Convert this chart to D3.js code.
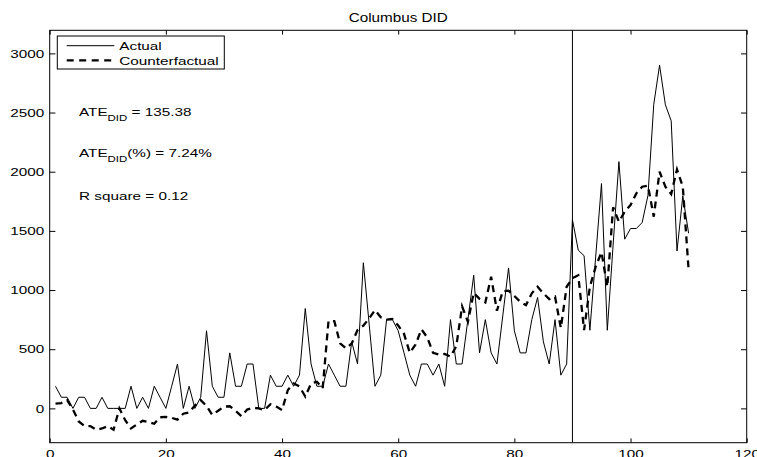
<!DOCTYPE html>
<html>
<head>
<meta charset="utf-8">
<script src="https://cdn.jsdelivr.net/npm/d3@7/dist/d3.min.js"></script>
<style>
  html, body { margin: 0; padding: 0; background: #fff; }
  svg { display: block; }
  text { font-family: "Liberation Sans", Arial, Helvetica, sans-serif; fill: #000; }
</style>
</head>
<body>
<svg id="chart" width="757" height="457"></svg>
<script>
// Period index (1..110) and the two series
const periods = d3.range(1, 111);

const actual = [
  187, 94, 94, 0, 94, 94, 0, 0, 94, 0,
  0, 0, 0, 187, 0, 94, 0, 187, 94, 0,
  187, 375, 0, 187, 0, 94, 656, 187, 94, 94,
  469, 187, 187, 375, 375, 0, 0, 281, 187, 187,
  281, 187, 281, 844, 375, 187, 187, 375, 281, 187,
  187, 562, 375, 1231, 712, 187, 281, 750, 750, 656,
  469, 281, 187, 375, 375, 281, 375, 187, 750, 375,
  375, 750, 1125, 469, 750, 469, 375, 781, 1187, 656,
  469, 469, 750, 937, 562, 375, 750, 281, 375, 1594,
  1337, 1290, 660, 1280, 1900, 660, 1380, 2085, 1430, 1520,
  1520, 1570, 1800, 2570, 2900, 2565, 2430, 1330, 1795, 1480
];

const counterfactual = [
  40, 45, 70, -10, -110, -150, -150, -180, -170, -150,
  -180, 0, -100, -170, -135, -105, -115, -130, -75, -72,
  -80, -95, -45, -35, 25, 70, 20, -55, -20, 15,
  18, -20, -65, -10, 5, 0, -15, 35, 15, -15,
  155, 210, 185, 100, 210, 225, 170, 738, 738, 549,
  507, 549, 662, 700, 760, 830, 770, 750, 755, 700,
  630, 470, 540, 668, 600, 470, 455, 460, 437, 525,
  862, 732, 976, 925, 895, 1112, 825, 990, 995, 950,
  901, 873, 972, 1028, 972, 924, 944, 680, 1028, 1100,
  1125, 662, 1028, 1197, 1320, 1028, 1700, 1577, 1662, 1718,
  1817, 1873, 1882, 1620, 2000, 1873, 1811, 2020, 1873, 1169
];

const xTicks = [0, 20, 40, 60, 80, 100, 120];
const yTicks = [0, 500, 1000, 1500, 2000, 2500, 3000];
const interventionPeriod = 90;

const titleText = "Columbus DID";
const seriesNames = ["Actual", "Counterfactual"];
const stats = [
  { lead: "ATE", sub: "DID", rest: " = 135.38" },
  { lead: "ATE", sub: "DID", rest: "(%) = 7.24%" },
  { lead: "R square = 0.12", sub: null, rest: "" }
];

// ---- layout ----
const svg = d3.select("#chart");
const plot = { left: 49.7, right: 746.7, top: 30.3, bottom: 442.7 };
const FS = 11.5;         // font size
const SX = 1.33;         // horizontal stretch of the figure's lettering

const x = d3.scaleLinear().domain([0, 120]).range([plot.left, plot.right]);
const y = d3.scaleLinear().domain([-290, 3195]).range([plot.bottom, plot.top]);

// Axes: MATLAB-style inward ticks on all four sides
function styleAxis(g) {
  g.selectAll("path.domain").remove();
  g.selectAll("line").attr("stroke", "#000").attr("stroke-width", 1);
  g.selectAll("text")
    .attr("font-size", FS)
    .attr("font-family", "Liberation Sans, Arial, sans-serif")
    .attr("fill", "#000");
}

svg.append("g")
  .attr("transform", `translate(0,${plot.bottom})`)
  .call(d3.axisBottom(x).tickValues(xTicks).tickSizeInner(-4.3).tickSizeOuter(0).tickPadding(7.3).tickFormat(d3.format("d")))
  .call(styleAxis)
  .call(g => g.selectAll("text").attr("transform", `scale(${SX},1)`)
    .attr("x", 0));

svg.append("g")
  .attr("transform", `translate(0,${plot.top})`)
  .call(d3.axisTop(x).tickValues(xTicks).tickSizeInner(-4.3).tickSizeOuter(0).tickFormat(""))
  .call(styleAxis);

svg.append("g")
  .attr("transform", `translate(${plot.left},0)`)
  .call(d3.axisLeft(y).tickValues(yTicks).tickSizeInner(-5.7).tickSizeOuter(0).tickPadding(5.4 / SX).tickFormat(d3.format("d")))
  .call(styleAxis)
  .call(g => g.selectAll("text").attr("transform", `scale(${SX},1)`));

svg.append("g")
  .attr("transform", `translate(${plot.right},0)`)
  .call(d3.axisRight(y).tickValues(yTicks).tickSizeInner(-5.7).tickSizeOuter(0).tickFormat(""))
  .call(styleAxis);

// Axes box
svg.append("rect")
  .attr("x", plot.left).attr("y", plot.top)
  .attr("width", plot.right - plot.left).attr("height", plot.bottom - plot.top)
  .attr("fill", "none").attr("stroke", "#000").attr("stroke-width", 1);

// Series lines
const line = d3.line().x((d, i) => x(periods[i])).y(d => y(d));

svg.append("path")
  .datum(actual)
  .attr("d", line)
  .attr("fill", "none").attr("stroke", "#000").attr("stroke-width", 1)
  .attr("stroke-linejoin", "miter");

svg.append("path")
  .datum(counterfactual)
  .attr("d", line)
  .attr("fill", "none").attr("stroke", "#000").attr("stroke-width", 2.3)
  .attr("stroke-dasharray", "7,5");

// Intervention marker
svg.append("line")
  .attr("x1", x(interventionPeriod)).attr("x2", x(interventionPeriod))
  .attr("y1", plot.top).attr("y2", plot.bottom)
  .attr("stroke", "#000").attr("stroke-width", 1);

// Stretched text helper
function label(px, py, anchor) {
  return svg.append("text")
    .attr("transform", `translate(${px},${py}) scale(${SX},1)`)
    .attr("text-anchor", anchor || "start")
    .attr("font-size", FS);
}

// Title
label((plot.left + plot.right) / 2, 21.5, "middle")
  .attr("font-size", 12.5)
  .attr("transform", `translate(${(plot.left + plot.right) / 2},21.5) scale(1.22,1)`)
  .text(titleText);

// Legend
const lg = { x: 57.3, y: 36, w: 167, h: 33 };
svg.append("rect")
  .attr("x", lg.x).attr("y", lg.y).attr("width", lg.w).attr("height", lg.h)
  .attr("fill", "#fff").attr("stroke", "#000").attr("stroke-width", 1);
const legendRows = [45.7, 60.3];
svg.append("line")
  .attr("x1", 66.7).attr("x2", 114.3).attr("y1", legendRows[0]).attr("y2", legendRows[0])
  .attr("stroke", "#000").attr("stroke-width", 1);
svg.append("line")
  .attr("x1", 66.7).attr("x2", 114.3).attr("y1", legendRows[1]).attr("y2", legendRows[1])
  .attr("stroke", "#000").attr("stroke-width", 2.3).attr("stroke-dasharray", "7,5.5");
label(119.3, legendRows[0] + 4.2).text(seriesNames[0]);
label(119.3, legendRows[1] + 4.2).text(seriesNames[1]);

// Statistics annotations
const statBaselines = [115.7, 156.7, 200];
stats.forEach((s, i) => {
  const t = label(79, statBaselines[i]);
  t.append("tspan").text(s.lead);
  if (s.sub) {
    t.append("tspan").attr("font-size", 8.6).attr("dy", 5).text(s.sub);
    t.append("tspan").attr("dy", -5).text(s.rest);
  }
});
</script>
</body>
</html>
